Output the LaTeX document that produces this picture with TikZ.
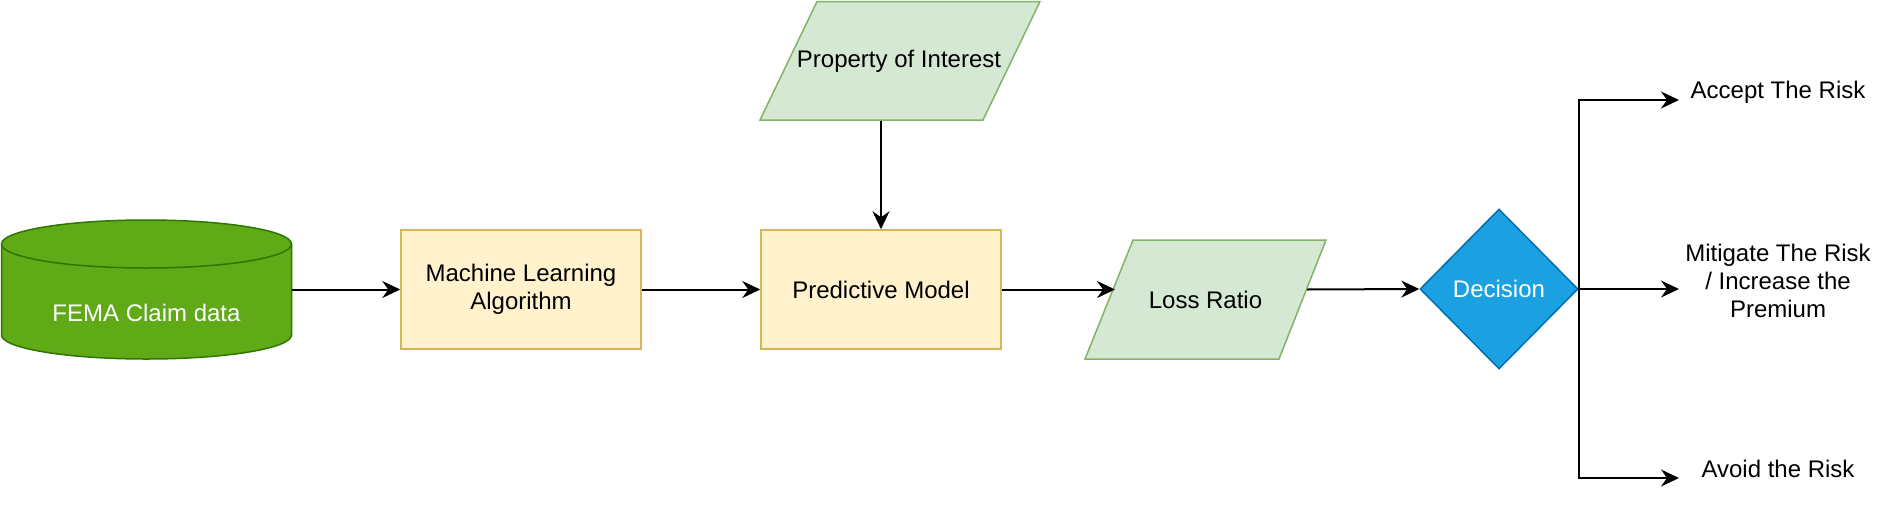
\documentclass[tikz,border=0pt]{standalone}
\usepackage{fontspec}
\setmainfont{Liberation Sans}
\usetikzlibrary{shapes.geometric,arrows.meta,backgrounds}
\definecolor{cylfill}{HTML}{60A917}
\definecolor{cylbord}{HTML}{2D7600}
\definecolor{yfill}{HTML}{FFF2CC}
\definecolor{ybord}{HTML}{D6B656}
\definecolor{gfill}{HTML}{D5E8D4}
\definecolor{gbord}{HTML}{82B366}
\definecolor{dfill}{HTML}{1BA1E2}
\definecolor{dbord}{HTML}{006EAF}
\begin{document}
\begin{tikzpicture}[x=1pt,y=-1pt,
  every node/.style={font=\fontsize{24}{28}\selectfont, inner sep=0pt, align=center},
  yellowbox/.style={draw=ybord, fill=yfill, line width=1.5pt, minimum width=240pt, minimum height=119pt},
  pgram/.style={fill=gfill, draw=gbord, line width=1.5pt, line join=miter},
  holder/.style={minimum width=#1, minimum height=119pt},
  decbox/.style={diamond, draw=dbord, fill=dfill, line width=1.5pt, minimum width=158pt, minimum height=160pt, text=white},
  conn/.style={line width=2pt, -{Stealth[length=18pt,width=17pt,inset=6pt]}},
  outlabel/.style={text=black}
]
\useasboundingbox (0,0) rectangle (1880,520);

% FEMA cylinder (drawn directly)
\filldraw[fill=cylfill, draw=cylbord, line width=1.5pt]
  (1.5,244) -- (1.5,335) arc[start angle=180, end angle=0, x radius=145, y radius=24]
  -- (291.5,244) arc[start angle=0, end angle=-180, x radius=145, y radius=24] -- cycle;
\draw[cylbord, line width=1.5pt] (291.5,244) arc[start angle=0, end angle=180, x radius=145, y radius=24];
\node[minimum width=290pt, minimum height=139pt,
      label={[text=white, yshift=-23.5pt, font=\fontsize{24}{28}\selectfont]center:FEMA Claim data}]
  (fema) at (146.5,289.5) {};

% parallelograms
\filldraw[pgram] (817,1.5) -- (1040,1.5) -- (983,120) -- (760,120) -- cycle;
\filldraw[pgram] (1133,240) -- (1326,240) -- (1279,359) -- (1085,359) -- cycle;

% nodes
\node[yellowbox] (ml) at (521,289.5) {Machine Learning\\Algorithm};
\node[yellowbox] (pm) at (881,289.5) {Predictive Model};
\node[holder=280pt] (poi) at (899,61) {Property of Interest};
\node[holder=241pt] (lr) at (1205.5,299.5) {Loss Ratio};
\node[decbox] (dec) at (1499,289) {Decision};

\node[outlabel] (accl) at (1778,92) {Accept The Risk};
\node[outlabel] (mitl) at (1778,281) {Mitigate The Risk\\/ Increase the\\Premium};
\node[outlabel] (avol) at (1778,469) {Avoid the Risk};

% helper coordinates
\coordinate (poiout) at (881,121);
\coordinate (lrin) at (1115,289.5);
\coordinate (lrout) at (1307,289.5);
\coordinate (acc) at (1679,100);
\coordinate (mit) at (1679,289);
\coordinate (avo) at (1679,478);

% connectors
\draw[conn] (fema.east) -- (ml.west);
\draw[conn] (ml.east) -- (pm.west);
\draw[conn] (poiout) -- (pm.north);
\draw[conn] (pm.east) -- (lrin);
\draw[conn] (lrout) -- (dec.west);
\draw[conn] (dec.east) |- (acc);
\draw[conn] (dec.east) -- (mit);
\draw[conn] (dec.east) |- (avo);
\end{tikzpicture}
\end{document}
